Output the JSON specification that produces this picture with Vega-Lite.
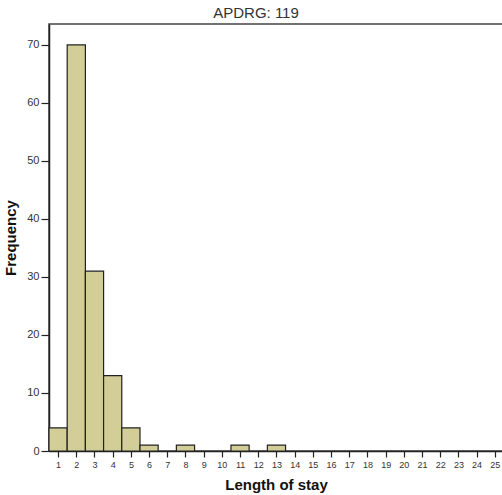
{
  "$schema": "https://vega.github.io/schema/vega-lite/v6.json",
  "width": 460,
  "height": 427,
  "autosize": {"type": "none"},
  "padding": {"left": 49, "top": 24, "right": 0, "bottom": 44},
  "title": {"text": "APDRG: 119", "fontSize": 15, "fontWeight": "normal", "color": "#333333", "font": "Liberation Sans", "offset": 3, "dx": -23},
  "config": {
    "font": "Liberation Sans",
    "view": {"stroke": "#444444", "strokeWidth": 1.5},
    "axis": {"grid": false, "domainColor": "#222222", "domainWidth": 1.5, "tickColor": "#222222", "tickWidth": 1.2, "labelColor": "#333333", "titleColor": "#111111", "labelFont": "Liberation Sans", "titleFont": "Liberation Sans", "titleFontWeight": "bold", "titleFontSize": 15}
  },
  "data": {"values": [
    {"start": 0.5, "end": 1.5, "count": 4},
    {"start": 1.5, "end": 2.5, "count": 70},
    {"start": 2.5, "end": 3.5, "count": 31},
    {"start": 3.5, "end": 4.5, "count": 13},
    {"start": 4.5, "end": 5.5, "count": 4},
    {"start": 5.5, "end": 6.5, "count": 1},
    {"start": 7.5, "end": 8.5, "count": 1},
    {"start": 10.5, "end": 11.5, "count": 1},
    {"start": 12.5, "end": 13.5, "count": 1}
  ]},
  "mark": {"type": "bar", "fill": "#D3CE97", "stroke": "#222222", "strokeWidth": 1.2},
  "encoding": {
    "x": {"field": "start", "type": "quantitative",
      "scale": {"domain": [0.5, 25.78], "nice": false, "zero": false},
      "axis": {"values": [1,2,3,4,5,6,7,8,9,10,11,12,13,14,15,16,17,18,19,20,21,22,23,24,25], "title": "Length of stay", "titleX": 227, "tickSize": 6, "labelFontSize": 9, "labelPadding": 3, "titlePadding": 8, "labelFlush": false, "labelOverlap": false}},
    "x2": {"field": "end"},
    "y": {"field": "count", "type": "quantitative",
      "scale": {"domain": [0, 73.6], "nice": false},
      "axis": {"values": [0,10,20,30,40,50,60,70], "title": "Frequency", "tickSize": 8, "labelFontSize": 11, "labelPadding": 2, "titlePadding": 8}},
    "y2": {"datum": 0}
  }
}
